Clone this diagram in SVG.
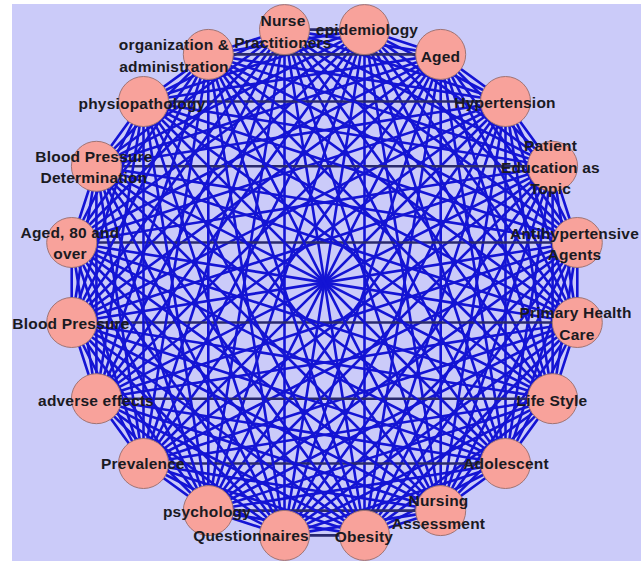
<svg xmlns="http://www.w3.org/2000/svg" width="641" height="561" viewBox="0 0 641 561">
<style>
.e line{stroke:#1414d4;stroke-width:2.6;stroke-linecap:round}
.e line.h{stroke:#2a2a6e}
.n circle{fill:#f8a29b;stroke:#a07474;stroke-width:1}
.n text{font-family:"Liberation Sans",Arial,sans-serif;font-weight:bold;font-size:15.5px;letter-spacing:0.2px;fill:#1a1a22;text-anchor:middle}
</style>
<rect x="0" y="0" width="641" height="561" fill="#ffffff"/>
<rect x="12" y="4" width="629" height="557" fill="#cbcbf9"/>
<g id="edges" class="e">
<line class="h" x1="284.5" y1="29.6" x2="364.5" y2="29.6"/>
<line x1="284.5" y1="29.6" x2="440.7" y2="54.4"/>
<line x1="284.5" y1="29.6" x2="505.5" y2="101.5"/>
<line x1="284.5" y1="29.6" x2="552.6" y2="166.3"/>
<line x1="284.5" y1="29.6" x2="577.3" y2="242.5"/>
<line x1="284.5" y1="29.6" x2="577.3" y2="322.5"/>
<line x1="284.5" y1="29.6" x2="552.6" y2="398.7"/>
<line x1="284.5" y1="29.6" x2="505.5" y2="463.5"/>
<line x1="284.5" y1="29.6" x2="440.7" y2="510.6"/>
<line x1="284.5" y1="29.6" x2="364.5" y2="535.4"/>
<line x1="284.5" y1="29.6" x2="284.5" y2="535.4"/>
<line x1="284.5" y1="29.6" x2="208.3" y2="510.6"/>
<line x1="284.5" y1="29.6" x2="143.5" y2="463.5"/>
<line x1="284.5" y1="29.6" x2="96.4" y2="398.7"/>
<line x1="284.5" y1="29.6" x2="71.7" y2="322.5"/>
<line x1="284.5" y1="29.6" x2="71.7" y2="242.5"/>
<line x1="284.5" y1="29.6" x2="96.4" y2="166.3"/>
<line x1="284.5" y1="29.6" x2="143.5" y2="101.5"/>
<line x1="284.5" y1="29.6" x2="208.3" y2="54.4"/>
<line x1="364.5" y1="29.6" x2="440.7" y2="54.4"/>
<line x1="364.5" y1="29.6" x2="505.5" y2="101.5"/>
<line x1="364.5" y1="29.6" x2="552.6" y2="166.3"/>
<line x1="364.5" y1="29.6" x2="577.3" y2="242.5"/>
<line x1="364.5" y1="29.6" x2="577.3" y2="322.5"/>
<line x1="364.5" y1="29.6" x2="552.6" y2="398.7"/>
<line x1="364.5" y1="29.6" x2="505.5" y2="463.5"/>
<line x1="364.5" y1="29.6" x2="440.7" y2="510.6"/>
<line x1="364.5" y1="29.6" x2="364.5" y2="535.4"/>
<line x1="364.5" y1="29.6" x2="284.5" y2="535.4"/>
<line x1="364.5" y1="29.6" x2="208.3" y2="510.6"/>
<line x1="364.5" y1="29.6" x2="143.5" y2="463.5"/>
<line x1="364.5" y1="29.6" x2="96.4" y2="398.7"/>
<line x1="364.5" y1="29.6" x2="71.7" y2="322.5"/>
<line x1="364.5" y1="29.6" x2="71.7" y2="242.5"/>
<line x1="364.5" y1="29.6" x2="96.4" y2="166.3"/>
<line x1="364.5" y1="29.6" x2="143.5" y2="101.5"/>
<line x1="364.5" y1="29.6" x2="208.3" y2="54.4"/>
<line x1="440.7" y1="54.4" x2="505.5" y2="101.5"/>
<line x1="440.7" y1="54.4" x2="552.6" y2="166.3"/>
<line x1="440.7" y1="54.4" x2="577.3" y2="242.5"/>
<line x1="440.7" y1="54.4" x2="577.3" y2="322.5"/>
<line x1="440.7" y1="54.4" x2="552.6" y2="398.7"/>
<line x1="440.7" y1="54.4" x2="505.5" y2="463.5"/>
<line x1="440.7" y1="54.4" x2="440.7" y2="510.6"/>
<line x1="440.7" y1="54.4" x2="364.5" y2="535.4"/>
<line x1="440.7" y1="54.4" x2="284.5" y2="535.4"/>
<line x1="440.7" y1="54.4" x2="208.3" y2="510.6"/>
<line x1="440.7" y1="54.4" x2="143.5" y2="463.5"/>
<line x1="440.7" y1="54.4" x2="96.4" y2="398.7"/>
<line x1="440.7" y1="54.4" x2="71.7" y2="322.5"/>
<line x1="440.7" y1="54.4" x2="71.7" y2="242.5"/>
<line x1="440.7" y1="54.4" x2="96.4" y2="166.3"/>
<line x1="440.7" y1="54.4" x2="143.5" y2="101.5"/>
<line class="h" x1="440.7" y1="54.4" x2="208.3" y2="54.4"/>
<line x1="505.5" y1="101.5" x2="552.6" y2="166.3"/>
<line x1="505.5" y1="101.5" x2="577.3" y2="242.5"/>
<line x1="505.5" y1="101.5" x2="577.3" y2="322.5"/>
<line x1="505.5" y1="101.5" x2="552.6" y2="398.7"/>
<line x1="505.5" y1="101.5" x2="505.5" y2="463.5"/>
<line x1="505.5" y1="101.5" x2="440.7" y2="510.6"/>
<line x1="505.5" y1="101.5" x2="364.5" y2="535.4"/>
<line x1="505.5" y1="101.5" x2="284.5" y2="535.4"/>
<line x1="505.5" y1="101.5" x2="208.3" y2="510.6"/>
<line x1="505.5" y1="101.5" x2="143.5" y2="463.5"/>
<line x1="505.5" y1="101.5" x2="96.4" y2="398.7"/>
<line x1="505.5" y1="101.5" x2="71.7" y2="322.5"/>
<line x1="505.5" y1="101.5" x2="71.7" y2="242.5"/>
<line x1="505.5" y1="101.5" x2="96.4" y2="166.3"/>
<line class="h" x1="505.5" y1="101.5" x2="143.5" y2="101.5"/>
<line x1="505.5" y1="101.5" x2="208.3" y2="54.4"/>
<line x1="552.6" y1="166.3" x2="577.3" y2="242.5"/>
<line x1="552.6" y1="166.3" x2="577.3" y2="322.5"/>
<line x1="552.6" y1="166.3" x2="552.6" y2="398.7"/>
<line x1="552.6" y1="166.3" x2="505.5" y2="463.5"/>
<line x1="552.6" y1="166.3" x2="440.7" y2="510.6"/>
<line x1="552.6" y1="166.3" x2="364.5" y2="535.4"/>
<line x1="552.6" y1="166.3" x2="284.5" y2="535.4"/>
<line x1="552.6" y1="166.3" x2="208.3" y2="510.6"/>
<line x1="552.6" y1="166.3" x2="143.5" y2="463.5"/>
<line x1="552.6" y1="166.3" x2="96.4" y2="398.7"/>
<line x1="552.6" y1="166.3" x2="71.7" y2="322.5"/>
<line x1="552.6" y1="166.3" x2="71.7" y2="242.5"/>
<line class="h" x1="552.6" y1="166.3" x2="96.4" y2="166.3"/>
<line x1="552.6" y1="166.3" x2="143.5" y2="101.5"/>
<line x1="552.6" y1="166.3" x2="208.3" y2="54.4"/>
<line x1="577.3" y1="242.5" x2="577.3" y2="322.5"/>
<line x1="577.3" y1="242.5" x2="552.6" y2="398.7"/>
<line x1="577.3" y1="242.5" x2="505.5" y2="463.5"/>
<line x1="577.3" y1="242.5" x2="440.7" y2="510.6"/>
<line x1="577.3" y1="242.5" x2="364.5" y2="535.4"/>
<line x1="577.3" y1="242.5" x2="284.5" y2="535.4"/>
<line x1="577.3" y1="242.5" x2="208.3" y2="510.6"/>
<line x1="577.3" y1="242.5" x2="143.5" y2="463.5"/>
<line x1="577.3" y1="242.5" x2="96.4" y2="398.7"/>
<line x1="577.3" y1="242.5" x2="71.7" y2="322.5"/>
<line class="h" x1="577.3" y1="242.5" x2="71.7" y2="242.5"/>
<line x1="577.3" y1="242.5" x2="96.4" y2="166.3"/>
<line x1="577.3" y1="242.5" x2="143.5" y2="101.5"/>
<line x1="577.3" y1="242.5" x2="208.3" y2="54.4"/>
<line x1="577.3" y1="322.5" x2="552.6" y2="398.7"/>
<line x1="577.3" y1="322.5" x2="505.5" y2="463.5"/>
<line x1="577.3" y1="322.5" x2="440.7" y2="510.6"/>
<line x1="577.3" y1="322.5" x2="364.5" y2="535.4"/>
<line x1="577.3" y1="322.5" x2="284.5" y2="535.4"/>
<line x1="577.3" y1="322.5" x2="208.3" y2="510.6"/>
<line x1="577.3" y1="322.5" x2="143.5" y2="463.5"/>
<line x1="577.3" y1="322.5" x2="96.4" y2="398.7"/>
<line class="h" x1="577.3" y1="322.5" x2="71.7" y2="322.5"/>
<line x1="577.3" y1="322.5" x2="71.7" y2="242.5"/>
<line x1="577.3" y1="322.5" x2="96.4" y2="166.3"/>
<line x1="577.3" y1="322.5" x2="143.5" y2="101.5"/>
<line x1="577.3" y1="322.5" x2="208.3" y2="54.4"/>
<line x1="552.6" y1="398.7" x2="505.5" y2="463.5"/>
<line x1="552.6" y1="398.7" x2="440.7" y2="510.6"/>
<line x1="552.6" y1="398.7" x2="364.5" y2="535.4"/>
<line x1="552.6" y1="398.7" x2="284.5" y2="535.4"/>
<line x1="552.6" y1="398.7" x2="208.3" y2="510.6"/>
<line x1="552.6" y1="398.7" x2="143.5" y2="463.5"/>
<line class="h" x1="552.6" y1="398.7" x2="96.4" y2="398.7"/>
<line x1="552.6" y1="398.7" x2="71.7" y2="322.5"/>
<line x1="552.6" y1="398.7" x2="71.7" y2="242.5"/>
<line x1="552.6" y1="398.7" x2="96.4" y2="166.3"/>
<line x1="552.6" y1="398.7" x2="143.5" y2="101.5"/>
<line x1="552.6" y1="398.7" x2="208.3" y2="54.4"/>
<line x1="505.5" y1="463.5" x2="440.7" y2="510.6"/>
<line x1="505.5" y1="463.5" x2="364.5" y2="535.4"/>
<line x1="505.5" y1="463.5" x2="284.5" y2="535.4"/>
<line x1="505.5" y1="463.5" x2="208.3" y2="510.6"/>
<line class="h" x1="505.5" y1="463.5" x2="143.5" y2="463.5"/>
<line x1="505.5" y1="463.5" x2="96.4" y2="398.7"/>
<line x1="505.5" y1="463.5" x2="71.7" y2="322.5"/>
<line x1="505.5" y1="463.5" x2="71.7" y2="242.5"/>
<line x1="505.5" y1="463.5" x2="96.4" y2="166.3"/>
<line x1="505.5" y1="463.5" x2="143.5" y2="101.5"/>
<line x1="505.5" y1="463.5" x2="208.3" y2="54.4"/>
<line x1="440.7" y1="510.6" x2="364.5" y2="535.4"/>
<line x1="440.7" y1="510.6" x2="284.5" y2="535.4"/>
<line class="h" x1="440.7" y1="510.6" x2="208.3" y2="510.6"/>
<line x1="440.7" y1="510.6" x2="143.5" y2="463.5"/>
<line x1="440.7" y1="510.6" x2="96.4" y2="398.7"/>
<line x1="440.7" y1="510.6" x2="71.7" y2="322.5"/>
<line x1="440.7" y1="510.6" x2="71.7" y2="242.5"/>
<line x1="440.7" y1="510.6" x2="96.4" y2="166.3"/>
<line x1="440.7" y1="510.6" x2="143.5" y2="101.5"/>
<line x1="440.7" y1="510.6" x2="208.3" y2="54.4"/>
<line class="h" x1="364.5" y1="535.4" x2="284.5" y2="535.4"/>
<line x1="364.5" y1="535.4" x2="208.3" y2="510.6"/>
<line x1="364.5" y1="535.4" x2="143.5" y2="463.5"/>
<line x1="364.5" y1="535.4" x2="96.4" y2="398.7"/>
<line x1="364.5" y1="535.4" x2="71.7" y2="322.5"/>
<line x1="364.5" y1="535.4" x2="71.7" y2="242.5"/>
<line x1="364.5" y1="535.4" x2="96.4" y2="166.3"/>
<line x1="364.5" y1="535.4" x2="143.5" y2="101.5"/>
<line x1="364.5" y1="535.4" x2="208.3" y2="54.4"/>
<line x1="284.5" y1="535.4" x2="208.3" y2="510.6"/>
<line x1="284.5" y1="535.4" x2="143.5" y2="463.5"/>
<line x1="284.5" y1="535.4" x2="96.4" y2="398.7"/>
<line x1="284.5" y1="535.4" x2="71.7" y2="322.5"/>
<line x1="284.5" y1="535.4" x2="71.7" y2="242.5"/>
<line x1="284.5" y1="535.4" x2="96.4" y2="166.3"/>
<line x1="284.5" y1="535.4" x2="143.5" y2="101.5"/>
<line x1="284.5" y1="535.4" x2="208.3" y2="54.4"/>
<line x1="208.3" y1="510.6" x2="143.5" y2="463.5"/>
<line x1="208.3" y1="510.6" x2="96.4" y2="398.7"/>
<line x1="208.3" y1="510.6" x2="71.7" y2="322.5"/>
<line x1="208.3" y1="510.6" x2="71.7" y2="242.5"/>
<line x1="208.3" y1="510.6" x2="96.4" y2="166.3"/>
<line x1="208.3" y1="510.6" x2="143.5" y2="101.5"/>
<line x1="208.3" y1="510.6" x2="208.3" y2="54.4"/>
<line x1="143.5" y1="463.5" x2="96.4" y2="398.7"/>
<line x1="143.5" y1="463.5" x2="71.7" y2="322.5"/>
<line x1="143.5" y1="463.5" x2="71.7" y2="242.5"/>
<line x1="143.5" y1="463.5" x2="96.4" y2="166.3"/>
<line x1="143.5" y1="463.5" x2="143.5" y2="101.5"/>
<line x1="143.5" y1="463.5" x2="208.3" y2="54.4"/>
<line x1="96.4" y1="398.7" x2="71.7" y2="322.5"/>
<line x1="96.4" y1="398.7" x2="71.7" y2="242.5"/>
<line x1="96.4" y1="398.7" x2="96.4" y2="166.3"/>
<line x1="96.4" y1="398.7" x2="143.5" y2="101.5"/>
<line x1="96.4" y1="398.7" x2="208.3" y2="54.4"/>
<line x1="71.7" y1="322.5" x2="71.7" y2="242.5"/>
<line x1="71.7" y1="322.5" x2="96.4" y2="166.3"/>
<line x1="71.7" y1="322.5" x2="143.5" y2="101.5"/>
<line x1="71.7" y1="322.5" x2="208.3" y2="54.4"/>
<line x1="71.7" y1="242.5" x2="96.4" y2="166.3"/>
<line x1="71.7" y1="242.5" x2="143.5" y2="101.5"/>
<line x1="71.7" y1="242.5" x2="208.3" y2="54.4"/>
<line x1="96.4" y1="166.3" x2="143.5" y2="101.5"/>
<line x1="96.4" y1="166.3" x2="208.3" y2="54.4"/>
<line x1="143.5" y1="101.5" x2="208.3" y2="54.4"/>
</g>
<g id="n0" class="n"><circle cx="284.5" cy="29.6" r="25"/><text x="283" y="25.5">Nurse</text><text x="283" y="47.5">Practitioners</text></g>
<g id="n1" class="n"><circle cx="364.5" cy="29.6" r="25"/><text x="367" y="35">epidemiology</text></g>
<g id="n2" class="n"><circle cx="440.7" cy="54.4" r="25"/><text x="440.5" y="61.5">Aged</text></g>
<g id="n3" class="n"><circle cx="505.5" cy="101.5" r="25"/><text x="505" y="107.5">Hypertension</text></g>
<g id="n4" class="n"><circle cx="552.6" cy="166.3" r="25"/><text x="550.5" y="150.5">Patient</text><text x="550.5" y="172.5">Education as</text><text x="550.5" y="193.5">Topic</text></g>
<g id="n5" class="n"><circle cx="577.3" cy="242.5" r="25"/><text x="574.5" y="238.5">Antihypertensive</text><text x="574.5" y="259.5">Agents</text></g>
<g id="n6" class="n"><circle cx="577.3" cy="322.5" r="25"/><text x="575.5" y="317.5">Primary Health</text><text x="577" y="339.5">Care</text></g>
<g id="n7" class="n"><circle cx="552.6" cy="398.7" r="25"/><text x="552" y="405.5">Life Style</text></g>
<g id="n8" class="n"><circle cx="505.5" cy="463.5" r="25"/><text x="506" y="468.5">Adolescent</text></g>
<g id="n9" class="n"><circle cx="440.7" cy="510.6" r="25"/><text x="438.5" y="505.5">Nursing</text><text x="438.5" y="528.5">Assessment</text></g>
<g id="n10" class="n"><circle cx="364.5" cy="535.4" r="25"/><text x="364" y="541.5">Obesity</text></g>
<g id="n12" class="n"><circle cx="208.3" cy="510.6" r="25"/><text x="207" y="516.5">psychology</text></g>
<g id="n11" class="n"><circle cx="284.5" cy="535.4" r="25"/><text x="251" y="540.5">Questionnaires</text></g>
<g id="n13" class="n"><circle cx="143.5" cy="463.5" r="25"/><text x="143" y="468.5">Prevalence</text></g>
<g id="n14" class="n"><circle cx="96.4" cy="398.7" r="25"/><text x="96" y="405.5">adverse effects</text></g>
<g id="n15" class="n"><circle cx="71.7" cy="322.5" r="25"/><text x="71" y="328.5">Blood Pressure</text></g>
<g id="n16" class="n"><circle cx="71.7" cy="242.5" r="25"/><text x="70" y="237.5">Aged, 80 and</text><text x="70" y="258.5">over</text></g>
<g id="n17" class="n"><circle cx="96.4" cy="166.3" r="25"/><text x="94" y="161.5">Blood Pressure</text><text x="94" y="182.5">Determination</text></g>
<g id="n18" class="n"><circle cx="143.5" cy="101.5" r="25"/><text x="142" y="108.5">physiopathology</text></g>
<g id="n19" class="n"><circle cx="208.3" cy="54.4" r="25"/><text x="174" y="49.5">organization &amp;</text><text x="174" y="71.5">administration</text></g>
</svg>
